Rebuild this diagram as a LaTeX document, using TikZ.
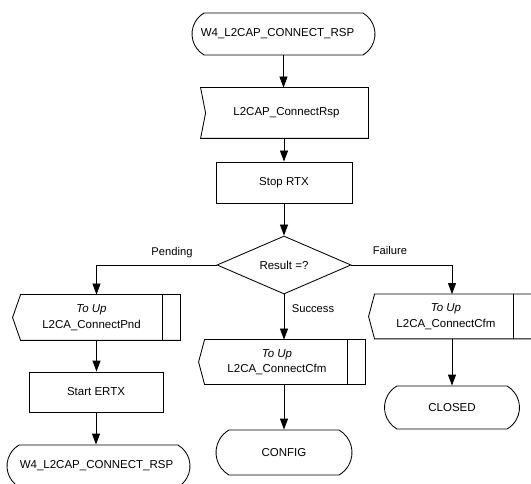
\documentclass[tikz,border=0pt]{standalone}
\usepackage{fontspec}
\setmainfont{Liberation Sans}
\usetikzlibrary{shapes.geometric,shapes.misc,arrows.meta}
\begin{document}
\begin{tikzpicture}[x=1pt,y=-1pt,
  font=\fontsize{11.5}{13}\selectfont,
  line width=0.85pt,
  every node/.style={inner sep=0pt},
  statebox/.style={rounded rectangle, rounded rectangle arc length=120, draw, minimum width=#1, minimum height=42},
  procbox/.style={rectangle, draw, minimum width=#1},
  sigbox/.style={rectangle, minimum width=#1, align=center, font=\fontsize{11.5}{15.5}\selectfont},
  lbl/.style={font=\fontsize{11.2}{13}\selectfont},
  arr/.style={-{Triangle[length=11pt,width=8pt]}}
]
\useasboundingbox (0,0) rectangle (531,484);

% top state
\node[statebox=183] (s0) at (283.5,34) {\hspace*{-12pt}W4\_L2CAP\_CONNECT\_RSP};

% input signal
\node[minimum width=167, minimum height=50] (in1) at (284.5,113) {\hspace*{4pt}L2CAP\_ConnectRsp};
\draw (in1.north west) -- (in1.north east) -- (in1.south east) -- (in1.south west) -- ([xshift=5pt]in1.west) -- cycle;

% Stop RTX
\node[procbox=136, minimum height=41] (stop) at (284,182.5) {Stop RTX};

% decision
\node[diamond, draw, minimum width=134, minimum height=58, shape aspect=2.31] (dec) at (284,265) {Result =?};

% left output signal
\node[sigbox=167, minimum height=45] (o1) at (96.5,317.5) {\hspace*{-10pt}\textit{To Up}\\\hspace*{-10pt}L2CA\_ConnectPnd};
\draw ([xshift=8pt]o1.north west) -- (o1.north east) -- (o1.south east) -- ([xshift=8pt]o1.south west) -- (o1.west) -- cycle;
\draw ([xshift=-18pt]o1.north east) -- ([xshift=-18pt]o1.south east);

% Start ERTX
\node[procbox=134, minimum height=40] (ertx) at (96,392) {Start ERTX};

% bottom-left state
\node[statebox=183] (s1) at (98.5,466) {\hspace*{-4pt}W4\_L2CAP\_CONNECT\_RSP};

% middle output signal
\node[sigbox=166, minimum height=44] (o2) at (282,362) {\hspace*{-10pt}\textit{To Up}\\\hspace*{-10pt}L2CA\_ConnectCfm};
\draw ([xshift=6pt]o2.north west) -- (o2.north east) -- (o2.south east) -- ([xshift=6pt]o2.south west) -- (o2.west) -- cycle;
\draw ([xshift=-18pt]o2.north east) -- ([xshift=-18pt]o2.south east);

% CONFIG
\node[statebox=136, minimum height=45] (config) at (284,452.5) {CONFIG};

% right output signal (its right edge lies beyond the picture)
\node[sigbox=171, minimum height=44] (o3) at (454.5,316.5) {\hspace*{-17pt}\textit{To Up}\\\hspace*{-17pt}L2CA\_ConnectCfm};
\draw ([xshift=6pt]o3.north west) -- (o3.north east) -- (o3.south east) -- ([xshift=6pt]o3.south west) -- (o3.west) -- cycle;
\draw ([xshift=-27pt]o3.north east) -- ([xshift=-27pt]o3.south east);

% CLOSED
\node[statebox=135, minimum height=43] (closed) at (452,407.5) {CLOSED};

% labels
\node[lbl] (lp) at (172,253) {Pending};
\node[lbl] (lf) at (390,250) {Failure};
\node[lbl] (ls) at (313,309) {Success};

% connectors
\draw[arr] (s0.south) -- (s0.south |- in1.north);
\draw[arr] (stop.north |- in1.south) -- (stop.north);
\draw[arr] (stop.south) -- (dec.north);
\draw[arr] (dec.west) -| (o1.north);
\draw[arr] (dec.east) -| (closed.north |- o3.north);
\draw[arr] (dec.south) -- (dec.south |- o2.north);
\draw[arr] (o1.south) -- (o1.south |- ertx.north);
\draw[arr] (ertx.south) -- (ertx.south |- s1.north);
\draw[arr] (config.north |- o2.south) -- (config.north);
\draw[arr] (closed.north |- o3.south) -- (closed.north);
\end{tikzpicture}
\end{document}
